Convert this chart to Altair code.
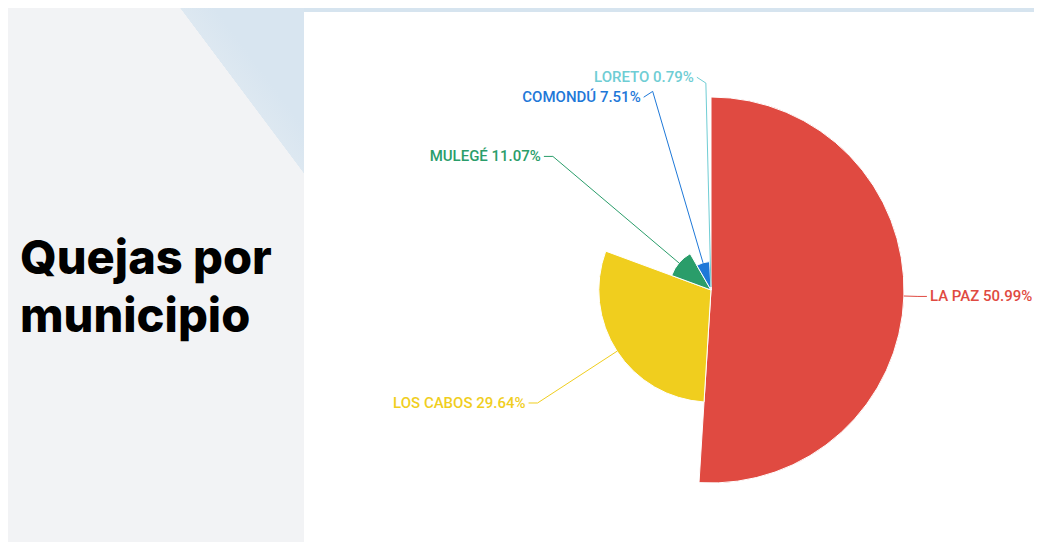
import altair as alt
import pandas as pd

# ---- data ----
municipios = ["LA PAZ", "LOS CABOS", "MULEGÉ", "COMONDÚ", "LORETO"]
porcentajes = [50.99, 29.64, 11.07, 7.51, 0.79]
colores = ["#E04A41", "#F0CE1E", "#2A9D6A", "#1E78D8", "#6FCDD4"]
title_lines = ["Quejas por", "municipio"]

df = pd.DataFrame({
    "municipio": municipios,
    "pct": porcentajes,
    "idx": list(range(len(municipios))),
})
tdf = pd.DataFrame({"k": [0]})

# ---- layout ----
W_L, W_R, H = 296, 730, 534
CX, CY = 407, 282          # pie centre inside the right panel
R_MAX = 193                # outer radius of the largest slice
R_LABEL = 207              # radius where leader lines bend
GAP = 20                   # minimal vertical distance between labels

xs = alt.Scale(domain=[-CX, W_R - CX], nice=False, zero=False)
ys = alt.Scale(domain=[-(H - CY), CY], nice=False, zero=False)
color = alt.Color("municipio:N", scale=alt.Scale(domain=municipios, range=colores), legend=None)

# ---- left panel ----
tri = alt.LinearGradient(
    gradient="linear",
    stops=[
        alt.GradientStop(color="#f2f3f5", offset=0),
        alt.GradientStop(color="#f2f3f5", offset=0.865),
        alt.GradientStop(color="#dde8f1", offset=0.867),
        alt.GradientStop(color="#d8e5f0", offset=1),
    ],
    x1=0.5, y1=0.5, x2=0.8096, y2=0.082,
)
left_bg = alt.Chart(tdf).mark_rect(fill=tri).encode(
    x=alt.value(0), x2=alt.value("width"), y=alt.value(0), y2=alt.value("height")
)
left_title = alt.Chart(tdf).mark_text(
    font="Inter", fontSize=47, fontWeight=800, align="left", baseline="alphabetic",
    lineHeight=58, color="#000000"
).encode(x=alt.value(12), y=alt.value(266), text=alt.value(title_lines))
left = alt.layer(left_bg, left_title).properties(width=W_L, height=H)

# ---- right panel ----
strip = alt.LinearGradient(
    gradient="linear",
    stops=[
        alt.GradientStop(color="#d6e4ef", offset=0),
        alt.GradientStop(color="#d6e4ef", offset=0.0075),
        alt.GradientStop(color="#ffffff", offset=0.0077),
        alt.GradientStop(color="#ffffff", offset=1),
    ],
    x1=0, y1=0, x2=0, y2=1,
)
right_bg = alt.Chart(tdf).mark_rect(fill=strip).encode(
    x=alt.value(0), x2=alt.value("width"), y=alt.value(0), y2=alt.value("height")
)

base = (
    alt.Chart(df)
    .transform_joinaggregate(total="sum(pct)", vmax="max(pct)")
    .transform_window(cum="sum(pct)", sort=[alt.SortField("idx")], frame=[None, 0])
    .transform_calculate(a="(datum.cum - datum.pct / 2) / datum.total * 2 * PI")
    .transform_calculate(ri=f"datum.pct / datum.vmax * {R_MAX}")
    .transform_calculate(
        x0="datum.ri * sin(datum.a)",
        y0="datum.ri * cos(datum.a)",
        x1=f"{R_LABEL} * sin(datum.a)",
        y1=f"{R_LABEL} * cos(datum.a)",
    )
    .transform_calculate(side="datum.x1 >= 0 ? 1 : -1")
    .transform_window(
        window=[{"op": "lag", "field": "y1", "as": "prev_y"},
                {"op": "lead", "field": "y1", "as": "next_y"}],
        groupby=["side"],
        sort=[alt.SortField("y1", order="descending")],
        frame=[None, None],
    )
    .transform_calculate(
        dp=f"isValid(datum.prev_y) ? max(0, {GAP} - (datum.prev_y - datum.y1)) : 0",
        dn=f"isValid(datum.next_y) ? max(0, {GAP} - (datum.y1 - datum.next_y)) : 0",
    )
    .transform_calculate(
        ly="datum.y1 - datum.dp / 2 + datum.dn / 2",
        lx="datum.x1 + datum.side * 9",
        label="datum.municipio + ' ' + format(datum.pct, '.2f') + '%'",
    )
)

arcs = base.mark_arc(stroke="white", strokeWidth=1).encode(
    theta=alt.Theta("pct:Q", stack=True),
    radius=alt.Radius("pct:Q", scale=alt.Scale(type="linear", zero=True, range=[0, R_MAX])),
    order=alt.Order("idx:Q"),
    color=color,
    x=alt.X(datum=0, type="quantitative", scale=xs, axis=None),
    y=alt.Y(datum=0, type="quantitative", scale=ys, axis=None),
)

line1 = base.mark_rule(strokeWidth=1).encode(
    x=alt.X("x0:Q", scale=xs, axis=None), y=alt.Y("y0:Q", scale=ys, axis=None),
    x2="x1:Q", y2="y1:Q", color=color,
)
line2 = base.mark_rule(strokeWidth=1).encode(
    x=alt.X("x1:Q", scale=xs, axis=None), y=alt.Y("y1:Q", scale=ys, axis=None),
    x2="lx:Q", y2="ly:Q", color=color,
)

lab_common = dict(font="Roboto", fontSize=15, fontWeight=500, baseline="middle")
labels_r = base.transform_filter("datum.side > 0").mark_text(align="left", dx=3, **lab_common).encode(
    x=alt.X("lx:Q", scale=xs, axis=None), y=alt.Y("ly:Q", scale=ys, axis=None),
    text="label:N", color=color,
)
labels_l = base.transform_filter("datum.side < 0").mark_text(align="right", dx=-3, **lab_common).encode(
    x=alt.X("lx:Q", scale=xs, axis=None), y=alt.Y("ly:Q", scale=ys, axis=None),
    text="label:N", color=color,
)

right = alt.layer(right_bg, arcs, line1, line2, labels_r, labels_l).properties(width=W_R, height=H)

chart = (
    alt.hconcat(left, right, spacing=0)
    .properties(padding=0, background="#ffffff")
    .configure_view(stroke=None)
)

chart.save("out.html", embed_options={"renderer": "svg", "actions": False})
